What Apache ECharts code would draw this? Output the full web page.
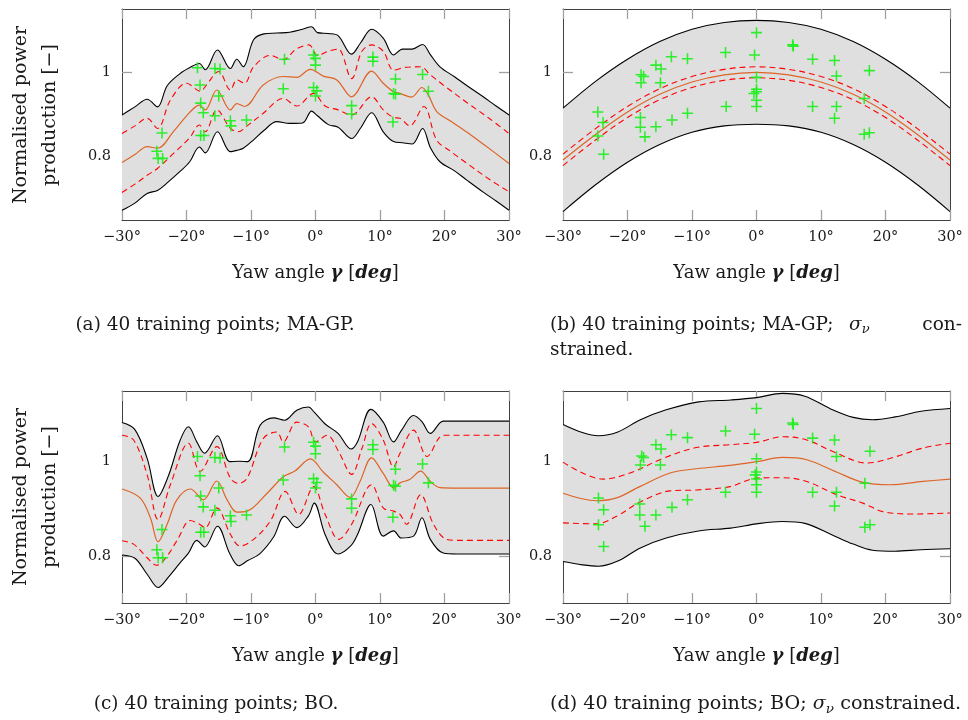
<!DOCTYPE html>
<html><head><meta charset="utf-8">
<script src="https://cdn.jsdelivr.net/npm/echarts@6/dist/echarts.min.js"></script>
<style>html,body{margin:0;padding:0;background:#fff}#c{width:968px;height:720px}</style>
</head><body><div id="c"></div>
<script>
// ---------- axes ----------
const X_TICKS = [-30, -20, -10, 0, 10, 20, 30];
const Y_TICKS = [0.8, 1];

// ---------- panel (a): MA-GP ----------
const aGridX = [-30,-28,-26.1,-24.5,-23,-21,-19.5,-18,-17.1,-15.2,-13.2,-12.2,-11.2,-9.6,-8,-6,-4,-2,-0.6,0.3,2,3.5,5.6,7,8.7,10.5,12.1,13.5,15,16.6,17.8,19.3,21.5,23.5,26,28,30];
const aUpper = [0.899,0.918,0.936,0.918,0.968,0.997,1.011,1.021,1.006,1.053,1.009,1.031,1.013,1.077,1.091,1.093,1.095,1.102,1.108,1.094,1.092,1.087,1.043,1.070,1.102,1.081,1.041,1.055,1.055,1.066,1.042,1.013,0.990,0.968,0.942,0.920,0.899];
const aLower = [0.673,0.690,0.713,0.720,0.738,0.765,0.788,0.823,0.809,0.859,0.812,0.815,0.820,0.840,0.862,0.883,0.879,0.880,0.908,0.897,0.876,0.870,0.843,0.868,0.904,0.859,0.836,0.833,0.830,0.867,0.822,0.788,0.767,0.744,0.716,0.695,0.673];
const aMean = [[-30,0.786],[-28,0.805],[-26.1,0.824],[-24.5,0.820],[-22,0.860],[-19.5,0.905],[-18,0.922],[-17.1,0.911],[-15.3,0.958],[-13.2,0.911],[-12.2,0.926],[-11,0.919],[-8.1,0.970],[-5,0.990],[-2.9,0.988],[-0.8,1.007],[1.2,0.991],[3.3,0.982],[5.6,0.942],[8.7,1.003],[10.5,0.974],[12.1,0.954],[13.1,0.950],[14.9,0.941],[16.5,0.964],[17.5,0.946],[18.8,0.907],[21,0.884],[23.5,0.858],[26,0.830],[30,0.784]];
const aDashHi = [[-30,0.855],[-28,0.873],[-26.1,0.891],[-24.5,0.867],[-22.5,0.934],[-20,0.974],[-17.8,0.955],[-17,0.968],[-15,1.002],[-13.2,0.958],[-12.2,0.982],[-11,0.974],[-9.6,1.013],[-7,1.040],[-5,1.030],[-3,1.055],[-1,1.065],[0.3,1.040],[2,1.050],[3.5,1.055],[5.6,0.985],[7.2,1.050],[8.7,1.065],[10.5,1.050],[12.1,1.005],[14,1.012],[16.3,1.013],[17.8,0.994],[19.8,0.970],[23.5,0.928],[27,0.890],[30,0.855]];
const aDashLo = [[-30,0.715],[-28,0.735],[-26.1,0.756],[-24.5,0.772],[-22,0.808],[-19.5,0.845],[-18,0.875],[-17.1,0.859],[-15.3,0.911],[-13.2,0.867],[-12,0.859],[-10.6,0.873],[-8.1,0.903],[-5,0.938],[-2.9,0.920],[-0.3,0.950],[1.5,0.920],[3.5,0.911],[5.6,0.899],[8.7,0.942],[10.5,0.911],[12.1,0.893],[13.1,0.891],[14.6,0.873],[16.8,0.919],[18.8,0.839],[21,0.812],[23.5,0.784],[27,0.746],[30,0.717]];
const ptsA = [[-24.6,0.813],[-24.4,0.796],[-23.7,0.796],[-23.8,0.856],[-18.3,1.011],[-17.9,0.970],[-17.8,0.927],[-17.4,0.904],[-17.8,0.850],[-17.3,0.850],[-15.6,1.009],[-14.8,1.008],[-15.0,0.944],[-15.6,0.897],[-13.2,0.885],[-13.1,0.873],[-10.7,0.887],[-4.8,1.031],[-5.0,0.961],[-0.3,1.041],[0,1.033],[0,1.017],[-0.3,0.964],[0.2,0.956],[0,0.944],[5.6,0.921],[5.6,0.901],[8.9,1.036],[8.9,1.026],[12.4,0.984],[12.1,0.950],[12.4,0.948],[12.0,0.882],[16.6,0.995],[17.5,0.955]];

// ---------- panel (b): MA-GP, sigma_v constrained ----------
const bGridX = [-30,-25,-20,-15,-10,-5,0,5,10,15,20,25,30];
const bUpper = [0.915,0.978,1.031,1.073,1.102,1.118,1.123,1.118,1.102,1.073,1.031,0.978,0.915];
const bLower = [0.670,0.733,0.787,0.829,0.858,0.873,0.877,0.873,0.858,0.829,0.787,0.733,0.670];
const bMeanV = [0.792,0.852,0.906,0.948,0.977,0.994,1.000,0.994,0.977,0.948,0.906,0.852,0.792];
const bDashHiV = [0.806,0.866,0.919,0.961,0.990,1.007,1.013,1.007,0.990,0.961,0.919,0.866,0.806];
const bDashLoV = [0.779,0.839,0.893,0.935,0.964,0.981,0.987,0.981,0.964,0.935,0.893,0.839,0.779];
const ptsB = [[0,1.094],[5.6,1.065],[5.7,1.062],[-0.3,1.041],[-4.8,1.047],[-13.2,1.037],[-10.7,1.032],[-15.6,1.017],[-14.8,1.008],[-17.9,0.994],[-17.5,0.990],[-17.9,0.975],[-14.9,0.975],[0,0.988],[0,0.960],[0,0.954],[-0.4,0.950],[0,0.934],[0,0.919],[8.7,1.031],[12.1,1.028],[12.4,0.991],[17.5,1.004],[16.7,0.938],[8.7,0.919],[12.4,0.919],[12.1,0.891],[16.7,0.853],[17.5,0.857],[-4.7,0.919],[-10.7,0.903],[-13.1,0.887],[-15.6,0.871],[-18.0,0.893],[-18.0,0.870],[-17.3,0.847],[-24.6,0.906],[-23.8,0.881],[-24.6,0.849],[-23.7,0.806]];

// ---------- panel (c): BO ----------
const cGridX = [-30,-28,-26.1,-24.4,-22.8,-21,-19.7,-18.4,-17.2,-15.2,-13.3,-11.9,-10.5,-8.6,-6.5,-4.8,-2.9,-1.1,-0.2,1.5,3.5,5.5,6.5,8.6,10.5,12.1,13.3,15.2,16.5,17.8,19.8,22,25,30];
const cUpper = [1.083,1.068,1.007,0.926,0.970,1.045,1.074,1.042,1.018,1.055,1.000,1.001,1.000,1.077,1.093,1.088,1.109,1.116,1.105,1.080,1.060,1.027,1.042,1.111,1.084,1.042,1.066,1.098,1.085,1.060,1.086,1.086,1.086,1.086];
const cLower = [0.802,0.795,0.761,0.733,0.755,0.785,0.806,0.833,0.819,0.863,0.805,0.779,0.790,0.805,0.840,0.884,0.860,0.885,0.912,0.845,0.804,0.822,0.845,0.909,0.842,0.853,0.838,0.842,0.881,0.835,0.806,0.804,0.804,0.804];
const cMean = [[-30,0.942],[-27.2,0.923],[-25.6,0.881],[-24.4,0.830],[-23,0.867],[-21.5,0.919],[-19.4,0.942],[-17.4,0.919],[-15.3,0.959],[-13.7,0.919],[-12.2,0.893],[-10.6,0.895],[-7.5,0.933],[-5,0.968],[-3.2,0.980],[-0.8,1.006],[1.2,0.978],[3.3,0.951],[5.4,0.924],[6.9,0.958],[8.7,1.008],[10.5,0.975],[12.2,0.944],[13.1,0.955],[14.6,0.962],[16.3,0.980],[17.8,0.958],[19.3,0.945],[22,0.944],[30,0.944]];
const cDashHi = [[-30,1.056],[-28.2,1.046],[-26.1,0.972],[-24.4,0.877],[-22.5,0.951],[-19.7,1.039],[-17.9,0.979],[-15.3,1.032],[-13.2,0.965],[-11.9,0.954],[-10.6,0.965],[-8.1,1.049],[-6,1.063],[-5,1.042],[-2.9,1.084],[-1.1,1.074],[0,1.042],[1.8,1.056],[3.6,1.021],[5.6,0.973],[7.2,1.028],[8.7,1.081],[10.5,1.046],[12.1,0.989],[13.1,1.018],[15.2,1.067],[17.3,1.011],[19.8,1.056],[22,1.056],[30,1.056]];
const cDashLo = [[-30,0.832],[-28.2,0.825],[-26.1,0.796],[-24.6,0.780],[-23,0.800],[-21.5,0.832],[-19.4,0.875],[-18.1,0.868],[-17.1,0.860],[-15.3,0.902],[-13.2,0.846],[-11.7,0.821],[-9.6,0.835],[-7,0.874],[-4.7,0.937],[-2.6,0.888],[-0.3,0.947],[1.5,0.888],[3.6,0.835],[5.6,0.867],[8.7,0.951],[10.5,0.902],[12.1,0.895],[13.1,0.888],[14.1,0.867],[16.3,0.930],[18.3,0.867],[20.3,0.835],[22,0.833],[30,0.833]];
const ptsC = ptsA;

// ---------- panel (d): BO, sigma_v constrained ----------
const dGridX = [-30,-27,-24.5,-21.5,-18,-14,-9,-4,0,4,7.5,11.5,15,18,21.5,25.5,30];
const dUpper = [1.079,1.062,1.055,1.063,1.089,1.110,1.127,1.131,1.136,1.145,1.139,1.112,1.094,1.089,1.095,1.107,1.113];
const dLower = [0.788,0.781,0.778,0.789,0.817,0.838,0.853,0.859,0.868,0.873,0.869,0.846,0.825,0.812,0.810,0.813,0.815];
const dMean = [[-30,0.933],[-24.8,0.917],[-21.7,0.923],[-18.1,0.947],[-13.4,0.976],[-9.3,0.985],[-4.1,0.992],[0,1.000],[4.1,1.009],[7.8,1.004],[12.4,0.978],[16.5,0.956],[20.7,0.951],[25.8,0.958],[30,0.963]];
const dDashHi = [[-30,0.999],[-23.8,0.963],[-19.6,0.976],[-14.5,1.007],[-9.3,1.030],[-4.1,1.036],[0,1.041],[4.1,1.053],[7.8,1.046],[12.4,1.018],[17.1,0.997],[21.7,1.011],[25.8,1.029],[30,1.039]];
const dDashLo = [[-30,0.870],[-24.8,0.868],[-21.7,0.884],[-18.1,0.914],[-13.4,0.938],[-9.3,0.940],[-4.1,0.947],[0,0.965],[4.1,0.966],[7.8,0.958],[12.4,0.930],[16.5,0.912],[19.6,0.894],[24.3,0.889],[30,0.891]];
const ptsD = [[0,1.113],[5.6,1.082],[5.7,1.079],[-13.2,1.057],[-10.7,1.051],[-4.8,1.065],[-0.3,1.058],[8.7,1.050],[12.1,1.046],[-15.6,1.036],[-14.8,1.027],[-17.8,1.012],[-17.5,1.009],[-18.0,0.993],[-14.9,0.993],[0,1.006],[12.4,1.011],[17.6,1.022],[0,0.978],[-0.2,0.972],[0,0.963],[0,0.951],[0,0.935],[16.8,0.954],[-4.8,0.935],[8.7,0.935],[12.4,0.935],[12.1,0.906],[-10.7,0.919],[-13.1,0.903],[-15.6,0.887],[-18.1,0.910],[-18.1,0.887],[-17.3,0.863],[-24.5,0.923],[-23.7,0.898],[-24.5,0.866],[-23.7,0.820],[16.8,0.861],[17.6,0.866]];

// ---------- build ----------
const FONT = 'DejaVu Serif';
const TXT = '#1a1a1a';
const SM = 0.35;
const zip = (xs, ys) => xs.map((x, k) => [x, ys[k]]);

const panels = [
  {grid:{left:122, top:9, width:387, height:211}, ymin:0.65, ymax:1.15, gx:aGridX, up:aUpper, lo:aLower, mean:aMean, hi:aDashHi, dlo:aDashLo, pts:ptsA},
  {grid:{left:563, top:9, width:387, height:211}, ymin:0.65, ymax:1.15, gx:bGridX, up:bUpper, lo:bLower, mean:zip(bGridX,bMeanV), hi:zip(bGridX,bDashHiV), dlo:zip(bGridX,bDashLoV), pts:ptsB},
  {grid:{left:122, top:391, width:387, height:212}, ymin:0.70, ymax:1.15, gx:cGridX, up:cUpper, lo:cLower, mean:cMean, hi:cDashHi, dlo:cDashLo, pts:ptsC},
  {grid:{left:563, top:391, width:387, height:212}, ymin:0.70, ymax:1.15, gx:dGridX, up:dUpper, lo:dLower, mean:dMean, hi:dDashHi, dlo:dDashLo, pts:ptsD}
];

const grids = [], xAxes = [], yAxes = [], series = [];
const fmtX = v => (v < 0 ? '\u2212' + Math.abs(v) : String(v)) + '\u00b0';
const tickStyle = {color:'#a0a0a0', width:1.3};
const lineAx = {show:true, onZero:false, lineStyle:{color:'#404040', width:1}};
const PLUS = 'path://M4.3,0H5.7V4.3H10V5.7H5.7V10H4.3V5.7H0V4.3H4.3Z';

panels.forEach((p, i) => {
  grids.push(Object.assign({containLabel:false}, p.grid));
  xAxes.push({gridIndex:i, type:'value', min:-30, max:30, interval:10, position:'bottom',
    axisLine:lineAx, axisTick:{show:true, inside:true, length:10, lineStyle:tickStyle},
    axisLabel:{show:true, margin:10, fontFamily:FONT, fontSize:14.5, color:TXT, formatter:fmtX},
    splitLine:{show:false},
    name:'Yaw angle {b|\u03b3} [{b|deg}]', nameLocation:'middle', nameGap:44,
    nameTextStyle:{fontFamily:FONT, fontSize:18, color:TXT,
      rich:{b:{fontFamily:FONT, fontSize:18, fontWeight:'bold', fontStyle:'italic', color:TXT}}}});
  xAxes.push({gridIndex:i, type:'value', min:-30, max:30, interval:10, position:'top',
    axisLine:lineAx, axisTick:{show:true, inside:true, length:10, lineStyle:tickStyle},
    axisLabel:{show:false}, splitLine:{show:false}});
  yAxes.push({gridIndex:i, type:'value', min:p.ymin, max:p.ymax, position:'left',
    axisLine:lineAx, axisTick:{show:true, inside:true, length:10, lineStyle:tickStyle, customValues:Y_TICKS},
    axisLabel:{show:true, margin:11, fontFamily:FONT, fontSize:14.5, color:TXT, customValues:Y_TICKS,
      formatter:v => String(Math.round(v*10)/10)},
    splitLine:{show:false}});
  yAxes.push({gridIndex:i, type:'value', min:p.ymin, max:p.ymax, position:'right',
    axisLine:lineAx, axisTick:{show:true, inside:true, length:10, lineStyle:tickStyle, customValues:Y_TICKS},
    axisLabel:{show:false, customValues:Y_TICKS}, splitLine:{show:false}});

  const xi = 2*i, yi = 2*i;
  const base = {xAxisIndex:xi, yAxisIndex:yi, symbol:'none', silent:true, animation:false};
  // grey confidence band (stacked: lower + (upper-lower)), value first so the y dimension is stacked
  series.push(Object.assign({}, base, {type:'line', stack:'band'+i, smooth:SM, encode:{x:1, y:0},
    data:p.gx.map((x,k) => [p.lo[k], x]), lineStyle:{opacity:0}, z:1}));
  series.push(Object.assign({}, base, {type:'line', stack:'band'+i, smooth:SM, encode:{x:1, y:0},
    data:p.gx.map((x,k) => [p.up[k]-p.lo[k], x]), lineStyle:{opacity:0},
    areaStyle:{color:'#dfdfdf', opacity:1}, z:1}));
  // black envelope lines
  series.push(Object.assign({}, base, {type:'line', smooth:SM, data:zip(p.gx, p.up), lineStyle:{color:'#000', width:1.1}, z:3}));
  series.push(Object.assign({}, base, {type:'line', smooth:SM, data:zip(p.gx, p.lo), lineStyle:{color:'#000', width:1.1}, z:3}));
  // red dashed
  series.push(Object.assign({}, base, {type:'line', smooth:SM, data:p.hi, lineStyle:{color:'#ff0000', width:1.1, type:[6,4]}, z:3}));
  series.push(Object.assign({}, base, {type:'line', smooth:SM, data:p.dlo, lineStyle:{color:'#ff0000', width:1.1, type:[6,4]}, z:3}));
  // orange mean
  series.push(Object.assign({}, base, {type:'line', smooth:SM, data:p.mean, lineStyle:{color:'#de6427', width:1.2}, z:4}));
  // training points
  series.push({type:'scatter', xAxisIndex:xi, yAxisIndex:yi, data:p.pts, symbol:PLUS, symbolSize:11,
    itemStyle:{color:'#19f019', opacity:0.9}, silent:true, animation:false, z:5});
});

const capStyle = {fontFamily:FONT, fontSize:18.5, fill:TXT};
const sigRich = {i:{fontFamily:FONT, fontSize:18.5, fontStyle:'italic', fill:TXT},
                 s:{fontFamily:FONT, fontSize:13, fontStyle:'italic', fill:TXT, padding:[10,0,0,0]}};
const sigRichD = {i:{fontFamily:FONT, fontSize:19.2, fontStyle:'italic', fill:TXT},
                  s:{fontFamily:FONT, fontSize:13.5, fontStyle:'italic', fill:TXT, padding:[10,0,0,0]}};
const t = (x, y, text, extra) => ({type:'text', x, y, silent:true,
  style:Object.assign({text, align:'left', verticalAlign:'middle'}, capStyle, extra || {})});

const graphic = [
  t(21, 115, 'Normalised power', {align:'center', fontSize:19}),
  t(50, 115, 'production [\u2212]', {align:'center', fontSize:19}),
  t(21, 497, 'Normalised power', {align:'center', fontSize:19}),
  t(50, 497, 'production [\u2212]', {align:'center', fontSize:19}),
  t(215, 325, '(a) 40 training points; MA-GP.', {align:'center'}),
  t(550, 325, '(b) 40 training points; MA-GP;'),
  t(849, 325, '{i|\u03c3}{s|\u03bd}', {rich:sigRich}),
  t(962, 325, 'con-', {align:'right'}),
  t(550, 350, 'strained.'),
  t(216, 704, '(c) 40 training points; BO.', {align:'center'}),
  t(550, 704, '(d) 40 training points; BO; {i|\u03c3}{s|\u03bd} constrained.', {rich:sigRichD, fontSize:19.2})
];
for (let k = 0; k < 4; k++) graphic[k].rotation = Math.PI/2;

const chart = echarts.init(document.getElementById('c'), null, {renderer:'canvas'});
chart.setOption({animation:false, backgroundColor:'#fff', grid:grids, xAxis:xAxes, yAxis:yAxes, series, graphic});
</script>
</body></html>
